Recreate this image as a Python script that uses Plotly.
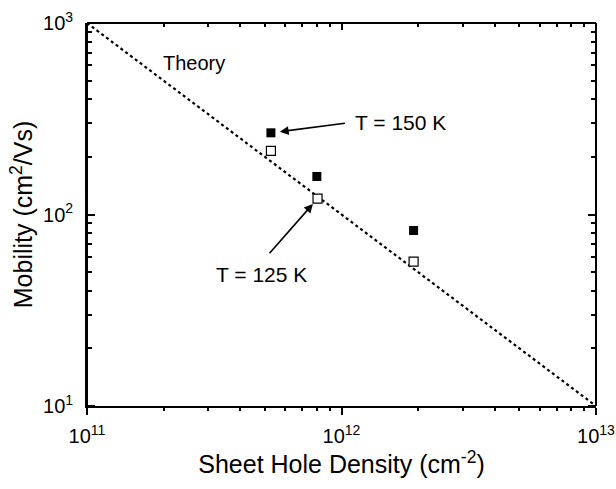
import math
import plotly.graph_objects as go

# Data
density_150K = [5.28e11, 8.0e11, 1.92e12]
mobility_150K = [267, 158, 82.5]
density_125K = [5.28e11, 8.05e11, 1.92e12]
mobility_125K = [215, 121, 56.7]
theory_density = [1e11, 1e13]
theory_mobility = [1000, 10]

x_tickvals = [1e11, 1e12, 1e13]
x_ticktext = ["10<sup>11</sup>", "10<sup>12</sup>", "10<sup>13</sup>"]
y_tickvals = [10, 100, 1000]
y_ticktext = ["10<sup>1</sup>", "10<sup>2</sup>", "10<sup>3</sup>"]

FONT = "Liberation Sans, Arial, sans-serif"

x_minor = [m * 10 ** e for e in (11, 12) for m in range(2, 10)]
y_minor = [m * 10 ** e for e in (1, 2) for m in range(2, 10)]

fig = go.Figure()

# invisible helper traces so the tick-only frame axes are drawn
helper = dict(mode="lines", line=dict(color="rgba(0,0,0,0)", width=0),
              hoverinfo="skip", showlegend=False)
fig.add_trace(go.Scatter(x=theory_density, y=theory_mobility,
                         xaxis="x2", yaxis="y2", **helper))
fig.add_trace(go.Scatter(x=theory_density, y=theory_mobility,
                         xaxis="x", yaxis="y3", **helper))

fig.add_trace(go.Scatter(
    x=theory_density, y=theory_mobility, mode="lines",
    line=dict(color="black", width=2.2, dash="dot"), showlegend=False))

fig.add_trace(go.Scatter(
    x=density_150K, y=mobility_150K, mode="markers",
    marker=dict(symbol="square", size=9, color="black",
                line=dict(color="black", width=0)), showlegend=False))

fig.add_trace(go.Scatter(
    x=density_125K, y=mobility_125K, mode="markers",
    marker=dict(symbol="square", size=9, color="white",
                line=dict(color="black", width=1.2)), showlegend=False))

common = dict(
    type="log", showline=True, linecolor="black", linewidth=1.8,
    tickcolor="black", showgrid=False, zeroline=False, automargin=False,
    tickfont=dict(family=FONT, size=20, color="black"),
)


def minor_ticks(vals, length):
    return dict(ticks="outside", ticklen=length, tickwidth=1.8,
                tickcolor="black", tickmode="array", tickvals=vals,
                showgrid=False)


fig.update_layout(
    xaxis=dict(**common, range=[11, 13], mirror=False, side="bottom",
               ticks="outside", ticklen=7, tickwidth=1.8,
               tickmode="array", tickvals=x_tickvals, ticktext=x_ticktext,
               ticklabelstandoff=4, minor=minor_ticks(x_minor, 3.5),
               title=dict(text="Sheet Hole Density (cm<sup>-2</sup>)",
                          font=dict(family=FONT, size=25, color="black"),
                          standoff=8)),
    xaxis2=dict(**common, range=[11, 13], overlaying="x", anchor="free",
                position=1, side="bottom", mirror=False,
                ticks="outside", ticklen=6, tickwidth=1.8,
                tickmode="array", tickvals=x_tickvals, showticklabels=False,
                minor=minor_ticks(x_minor, 3.5)),
    yaxis=dict(**common, range=[1, 3], mirror=False, side="left",
               ticks="", tickmode="array", tickvals=y_tickvals,
               ticktext=y_ticktext, ticklabelstandoff=8,
               title=dict(text="Mobility (cm<sup>2</sup>/Vs)",
                          font=dict(family=FONT, size=25, color="black"),
                          standoff=3)),
    yaxis2=dict(**common, range=[1, 3], overlaying="y", anchor="free",
                position=0, side="right", mirror=False,
                ticks="outside", ticklen=7, tickwidth=1.8,
                tickmode="array", tickvals=y_tickvals, showticklabels=False,
                minor=minor_ticks(y_minor, 4)),
    yaxis3=dict(**common, range=[1, 3], overlaying="y", anchor="free",
                position=1, side="left", mirror=False,
                ticks="outside", ticklen=7, tickwidth=1.8,
                tickmode="array", tickvals=y_tickvals, showticklabels=False,
                minor=minor_ticks(y_minor, 4)),
)

# Annotations (positions in log10 axis units)
fig.add_annotation(x=12.23, y=2.479, xref="x", yref="y",
                   text="T = 150 K", showarrow=False,
                   font=dict(family=FONT, size=21, color="black"))
fig.add_annotation(x=math.log10(density_150K[0]), y=math.log10(mobility_150K[0]),
                   xref="x", yref="y",
                   text=" ", showarrow=True, arrowhead=2, arrowsize=1.1,
                   arrowwidth=1.6, arrowcolor="black", standoff=9,
                   ax=77, ay=-10)
fig.add_annotation(x=11.684, y=1.6875, xref="x", yref="y",
                   text="T = 125 K", showarrow=False,
                   font=dict(family=FONT, size=21, color="black"))
fig.add_annotation(x=math.log10(density_125K[1]), y=math.log10(mobility_125K[1]),
                   xref="x", yref="y",
                   text=" ", showarrow=True, arrowhead=2, arrowsize=1.1,
                   arrowwidth=1.6, arrowcolor="black", standoff=7,
                   ax=-51, ay=58)
fig.add_annotation(x=11.42, y=2.792, xref="x", yref="y",
                   text="Theory", showarrow=False,
                   font=dict(family=FONT, size=20, color="black"))

fig.update_layout(
    width=616, height=489,
    margin=dict(l=87, r=20, t=23, b=83),
    paper_bgcolor="white", plot_bgcolor="rgba(0,0,0,0)",
    font=dict(family=FONT, color="black"),
)

fig.write_html("out.html",
               config={"displayModeBar": False},
               post_script="document.body.style.margin='0';")
